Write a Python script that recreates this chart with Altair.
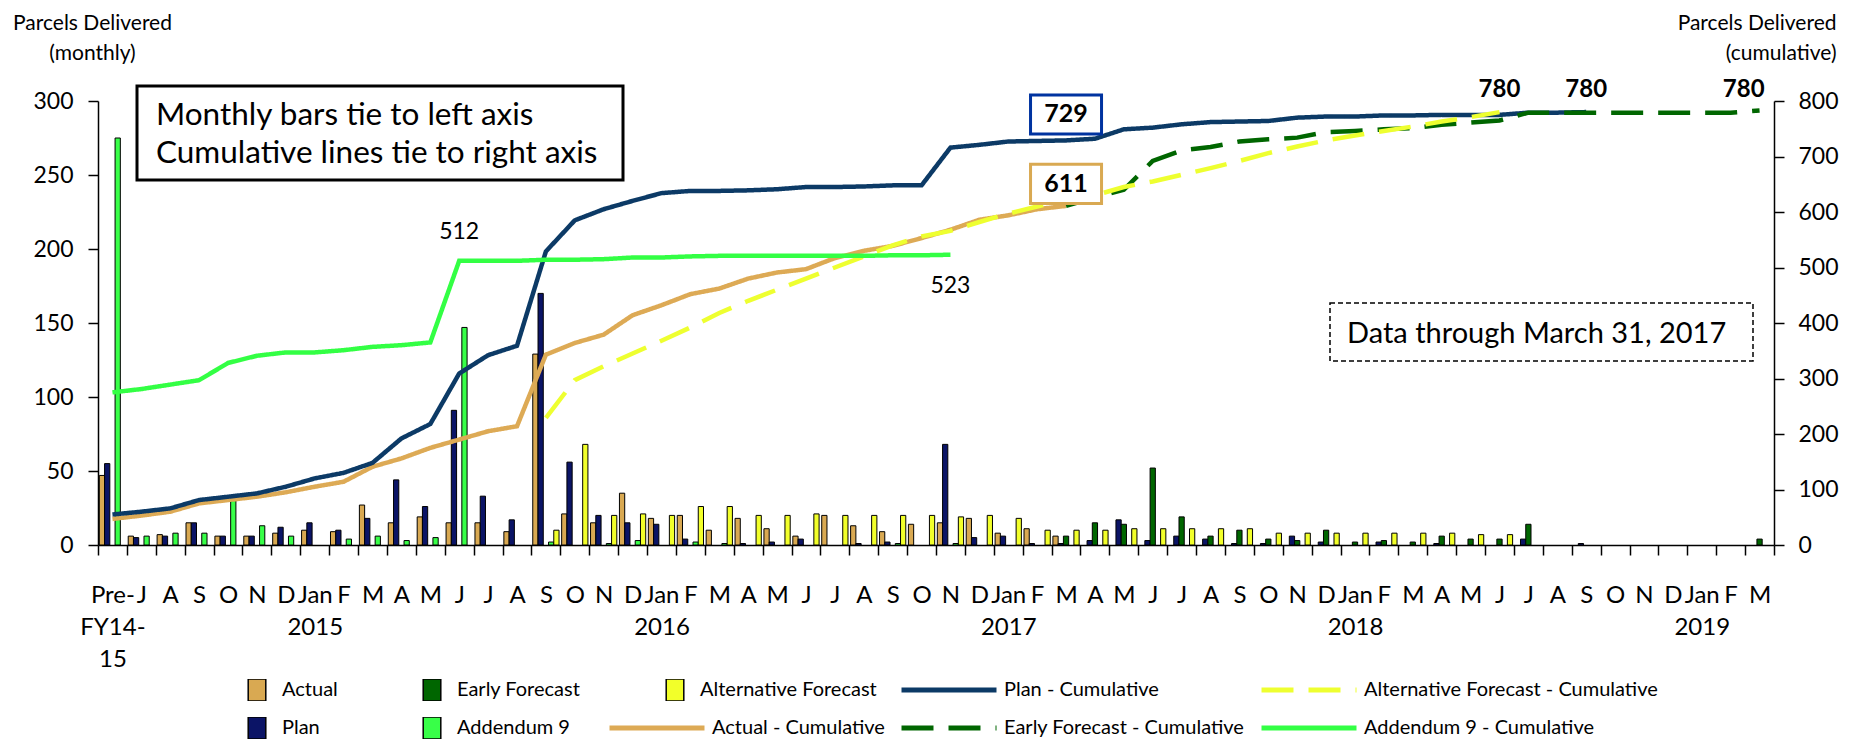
import json
import altair as alt
import pandas as pd

FONT = "Lato"

# ---------------- category axis ----------------
x_labels = [
    "Pre-|FY14-|15",
    "J", "A", "S", "O", "N", "D", "Jan|2015", "F", "M", "A", "M", "J",
    "J", "A", "S", "O", "N", "D", "Jan|2016", "F", "M", "A", "M", "J",
    "J", "A", "S", "O", "N", "D", "Jan|2017", "F", "M", "A", "M", "J",
    "J", "A", "S", "O", "N", "D", "Jan|2018", "F", "M", "A", "M", "J",
    "J", "A", "S", "O", "N", "D", "Jan|2019", "F", "M",
]
N = len(x_labels)


def at(start, vals):
    out = [None] * N
    out[start:start + len(vals)] = vals
    return out


# ---------------- monthly values (left axis) ----------------
actual = at(0, [47, 6, 7, 15, 6, 6, 8, 10, 9, 27, 15, 19, 15, 15, 9, 129, 21, 15, 35, 18,
                20, 10, 18, 11, 6, 20, 13, 9, 14, 15, 18, 8, 11, 6])
plan = at(0, [55, 5, 6, 15, 6, 6, 12, 15, 10, 18, 44, 26, 91, 33, 17, 170, 56, 20, 15, 14,
              4, None, 1, 2, 4, None, 1, 2, None, 68, 5, 6, 1, 1, 3, 17, 3, 6, 4, 1,
              1, 6, 2, None, 2, None, 1, None, None, 4, None, 1])
early = at(33, [6, 15, 14, 52, 19, 6, 10, 4, 3, 10, 2, 3, 2, 6, 4, 4, 14,
                None, None, None, None, None, None, None, 4])
addendum9 = at(0, [275, 6, 8, 8, 31, 13, 6, None, 4, 6, 3, 5, 147, None, None, 2, None, 1, 3,
                   None, 2, 1, None, None, None, None, None, 1, None, 1])
alternative = at(15, [10, 68, 20, 21, 20, 26, 26, 20, 20, 21, 20, 20, 20, 20, 19, 20, 18,
                      10, 10, 10, 11, 11, 11, 11, 11, 8, 8, 8, 8, 8, 8, 8, 7, 7])

# ---------------- cumulative values (right axis) ----------------
actual_cum = at(0, [47, 53, 60, 75, 81, 87, 95, 105, 114, 141, 156, 175, 190, 205, 214, 343,
                    364, 379, 414, 432, 452, 462, 480, 491, 497, 517, 530, 539, 553, 568,
                    586, 594, 605, 611])
plan_cum = at(0, [55, 60, 66, 81, 87, 93, 105, 120, 130, 148, 192, 218, 309, 342, 359, 529,
                  585, 605, 620, 634, 638, 638, 639, 641, 645, 645, 646, 648, 648, 716,
                  721, 727, 728, 729, 732, 749, 752, 758, 762, 763, 764, 770, 772, 772,
                  774, 774, 775, 775, 775, 779, 779, 780])
early_cum = at(33, [611, 626, 640, 692, 711, 717, 727, 731, 734, 744, 746, 749, 751, 757,
                    761, 765, 779, 779, 779, 779, 779, 779, 779, 779, 783])
alt_cum = at(15, [229, 297, 322, 345, 368, 392, 418, 440, 460, 480, 500, 520, 540, 556, 566,
                  582, 597, 610, 622, 630, 645, 655, 667, 679, 692, 706, 718, 729, 738,
                  746, 754, 763, 771, 780])
add9_cum = at(0, [275, 281, 289, 297, 328, 341, 347, 347, 351, 357, 360, 365, 512, 512, 512,
                  514, 514, 515, 518, 518, 520, 521, 521, 521, 521, 521, 521, 522, 522, 523])

bar_names = ["Actual", "Plan", "Early Forecast", "Addendum 9", "Alternative Forecast"]
bar_values = [actual, plan, early, addendum9, alternative]
line_names = ["Actual - Cumulative", "Plan - Cumulative", "Early Forecast - Cumulative",
              "Alternative Forecast - Cumulative", "Addendum 9 - Cumulative"]
line_values = [actual_cum, plan_cum, early_cum, alt_cum, add9_cum]

# callout labels: (text, category index, cumulative value)
callout_above = [("512", 12, 512)]
callout_below = [("523", 29, 523)]
callout_plan = [("729", 33, 729)]
callout_actual = [("611", 33, 611)]
callout_780 = [("780", 48, 780), ("780", 51, 780)]
callout_780_end = [("780", 57, 780)]

# ---------------- styles ----------------
bar_color = {"Actual": "#D9A952", "Plan": "#0B1466", "Early Forecast": "#006600",
             "Addendum 9": "#38FF48", "Alternative Forecast": "#F2FF2A"}
line_color = {"_blank": "transparent", "Plan - Cumulative": "#0C3A66",
              "Alternative Forecast - Cumulative": "#EEFF30",
              "Actual - Cumulative": "#DDAA55", "Early Forecast - Cumulative": "#006600",
              "Addendum 9 - Cumulative": "#33FF44"}
line_dash = {"_blank": [1, 0], "Plan - Cumulative": [1, 0],
             "Alternative Forecast - Cumulative": [32, 15], "Actual - Cumulative": [1, 0],
             "Early Forecast - Cumulative": [32, 15], "Addendum 9 - Cumulative": [1, 0]}

# legends fill column by column (two rows)
bar_legend_order = ["Actual", "Plan", "Early Forecast", "Addendum 9", "Alternative Forecast"]
line_legend_order = ["_blank", "Actual - Cumulative", "Plan - Cumulative",
                     "Early Forecast - Cumulative", "Alternative Forecast - Cumulative",
                     "Addendum 9 - Cumulative"]

# ---------------- tables ----------------
bars_df = pd.DataFrame([{"idx": i, "series": s, "value": v}
                        for s, vals in zip(bar_names, bar_values)
                        for i, v in enumerate(vals) if v is not None])
lines_df = pd.DataFrame([{"idx": i, "series": s, "value": v}
                         for s, vals in zip(line_names, line_values)
                         for i, v in enumerate(vals) if v is not None])


def cdf(items):
    return pd.DataFrame([{"text": t, "idx": i, "value": v} for t, i, v in items])


one = pd.DataFrame({"k": [0]})

x_axis = alt.Axis(
    labelExpr="isValid(datum.value) ? split(" + json.dumps(x_labels)
              + "[datum.value], '|') : ''",
    tickBand="extent", labelAngle=0, labelFont=FONT, labelFontSize=24, labelColor="black",
    labelPadding=28, labelLineHeight=32, labelOverlap=False, tickSize=10, tickColor="black",
    tickWidth=1.5, domainColor="black", domainWidth=1.5,
)
x_enc = alt.X("idx:O", title=None, axis=x_axis,
              scale=alt.Scale(domain=list(range(N)), paddingInner=0, paddingOuter=0))

left_axis = alt.Axis(
    values=[0, 50, 100, 150, 200, 250, 300], orient="left", grid=False,
    titleAngle=0, titleAlign="center", titleBaseline="top", titleX=-6, titleY=-89,
    titleFont=FONT, titleFontSize=21, titleFontWeight="normal", titleLineHeight=30,
    titleColor="black", labelFont=FONT, labelFontSize=23, labelColor="black",
    labelPadding=15, tickSize=10, tickColor="black", tickWidth=1.5,
    domainColor="black", domainWidth=1.5,
)
right_axis = alt.Axis(
    values=[0, 100, 200, 300, 400, 500, 600, 700, 800], orient="right", grid=False,
    titleAngle=0, titleAlign="right", titleBaseline="top", titleX=62, titleY=-89,
    titleFont=FONT, titleFontSize=21, titleFontWeight="normal", titleLineHeight=30,
    titleColor="black", labelFont=FONT, labelFontSize=23, labelColor="black",
    labelPadding=14, tickSize=10, tickColor="black", tickWidth=1.5,
    domainColor="black", domainWidth=1.5,
)

bar_legend = alt.Legend(
    orient="none", legendX=147, legendY=578, columns=3, title=None, gridAlign="each",
    symbolType="M-0.8,-1H0.8V1H-0.8Z", symbolSize=484, symbolStrokeColor="black",
    symbolStrokeWidth=1.5, labelFont=FONT, labelFontSize=20, labelColor="black",
    labelOffset=13, labelLimit=400, columnPadding=82, rowPadding=16, clipHeight=22,
)
line_legend = alt.Legend(
    orient="none", legendX=509, legendY=578, columns=3, title=None, gridAlign="each",
    symbolType="stroke", symbolSize=9025, symbolStrokeWidth=5, labelFont=FONT,
    labelFontSize=20, labelColor="black", labelOffset=5, labelLimit=400,
    columnPadding=14, rowPadding=16, clipHeight=22,
    labelExpr="datum.value == '_blank' ? '' : datum.label",
)

bars = alt.Chart(bars_df).mark_bar(stroke="black", strokeWidth=1).encode(
    x=x_enc,
    xOffset=alt.XOffset("series:N", scale=alt.Scale(domain=bar_names, paddingInner=0,
                                                     paddingOuter=0.25)),
    y=alt.Y("value:Q", title=["Parcels Delivered", "(monthly)"], axis=left_axis,
            scale=alt.Scale(domain=[0, 300], nice=False)),
    fill=alt.Fill("series:N", legend=bar_legend,
                  scale=alt.Scale(domain=bar_legend_order,
                                  range=[bar_color[s] for s in bar_legend_order])),
)

lines = alt.Chart(lines_df).mark_line(strokeWidth=4.5).encode(
    x=x_enc,
    y=alt.Y("value:Q", title=["Parcels Delivered", "(cumulative)"], axis=right_axis,
            scale=alt.Scale(domain=[0, 800], nice=False)),
    stroke=alt.Stroke("series:N", legend=line_legend,
                      scale=alt.Scale(domain=line_legend_order,
                                      range=[line_color[s] for s in line_legend_order])),
    strokeDash=alt.StrokeDash("series:N", legend=line_legend,
                              scale=alt.Scale(domain=line_legend_order,
                                              range=[line_dash[s] for s in line_legend_order])),
)

y_cum = alt.Y("value:Q", axis=None, scale=alt.Scale(domain=[0, 800], nice=False))

txt_above = alt.Chart(cdf(callout_above)).mark_text(
    font=FONT, fontSize=23, color="black", baseline="middle", align="center",
    dy=-29).encode(x=x_enc, y=y_cum, text="text:N")
txt_below = alt.Chart(cdf(callout_below)).mark_text(
    font=FONT, fontSize=23, color="black", baseline="middle", align="center",
    dy=31).encode(x=x_enc, y=y_cum, text="text:N")

BOX = "M-1,-0.55H1V0.55H-1Z"
plan_box = alt.Chart(cdf(callout_plan)).mark_point(
    shape=BOX, size=5041, filled=True, fill="white", fillOpacity=1, opacity=1,
    stroke="#0033A0", strokeWidth=3, yOffset=-26).encode(x=x_enc, y=y_cum)
plan_txt = alt.Chart(cdf(callout_plan)).mark_text(
    font=FONT, fontSize=25, fontWeight="bold", color="black", baseline="middle",
    align="center", dy=-26).encode(x=x_enc, y=y_cum, text="text:N")
act_box = alt.Chart(cdf(callout_actual)).mark_point(
    shape=BOX, size=5041, filled=True, fill="white", fillOpacity=1, opacity=1,
    stroke="#D9A952", strokeWidth=3, yOffset=-22).encode(x=x_enc, y=y_cum)
act_txt = alt.Chart(cdf(callout_actual)).mark_text(
    font=FONT, fontSize=25, fontWeight="bold", color="black", baseline="middle",
    align="center", dy=-22).encode(x=x_enc, y=y_cum, text="text:N")
t780 = alt.Chart(cdf(callout_780)).mark_text(
    font=FONT, fontSize=24, fontWeight="bold", color="black", baseline="middle",
    align="center", dy=-22).encode(x=x_enc, y=y_cum, text="text:N")
t780e = alt.Chart(cdf(callout_780_end)).mark_text(
    font=FONT, fontSize=24, fontWeight="bold", color="black", baseline="middle",
    align="right", dx=5, dy=-22).encode(x=x_enc, y=y_cum, text="text:N")

note_box = alt.Chart(one).mark_rect(fill="white", stroke="black", strokeWidth=3).encode(
    x=alt.value(39), x2=alt.value(525), y=alt.value(-15), y2=alt.value(79))
note_txt = alt.Chart(one).mark_text(
    text=["Monthly bars tie to left axis", "Cumulative lines tie to right axis"],
    font=FONT, fontSize=31.5, color="black", align="left", baseline="alphabetic",
    lineHeight=38).encode(x=alt.value(58), y=alt.value(24))
data_box = alt.Chart(one).mark_rect(fill="white", stroke="black", strokeWidth=1.5,
                                    strokeDash=[5, 3]).encode(
    x=alt.value(1232), x2=alt.value(1655), y=alt.value(202), y2=alt.value(260))
data_txt = alt.Chart(one).mark_text(
    text="Data through March 31, 2017", font=FONT, fontSize=29, color="black",
    align="left", baseline="alphabetic").encode(x=alt.value(1249), y=alt.value(242))

chart = alt.layer(
    bars, lines, txt_above, txt_below, plan_box, plan_txt, act_box, act_txt, t780, t780e,
    note_box, note_txt, data_box, data_txt,
).resolve_scale(y="independent").properties(
    width=1676, height=444,
    padding={"left": 90, "top": 93, "right": 87, "bottom": 195},
    autosize=alt.AutoSizeParams(type="none"),
    background="white",
).configure_view(strokeWidth=0)

chart.save("out.html", embed_options={"renderer": "svg", "actions": False})
